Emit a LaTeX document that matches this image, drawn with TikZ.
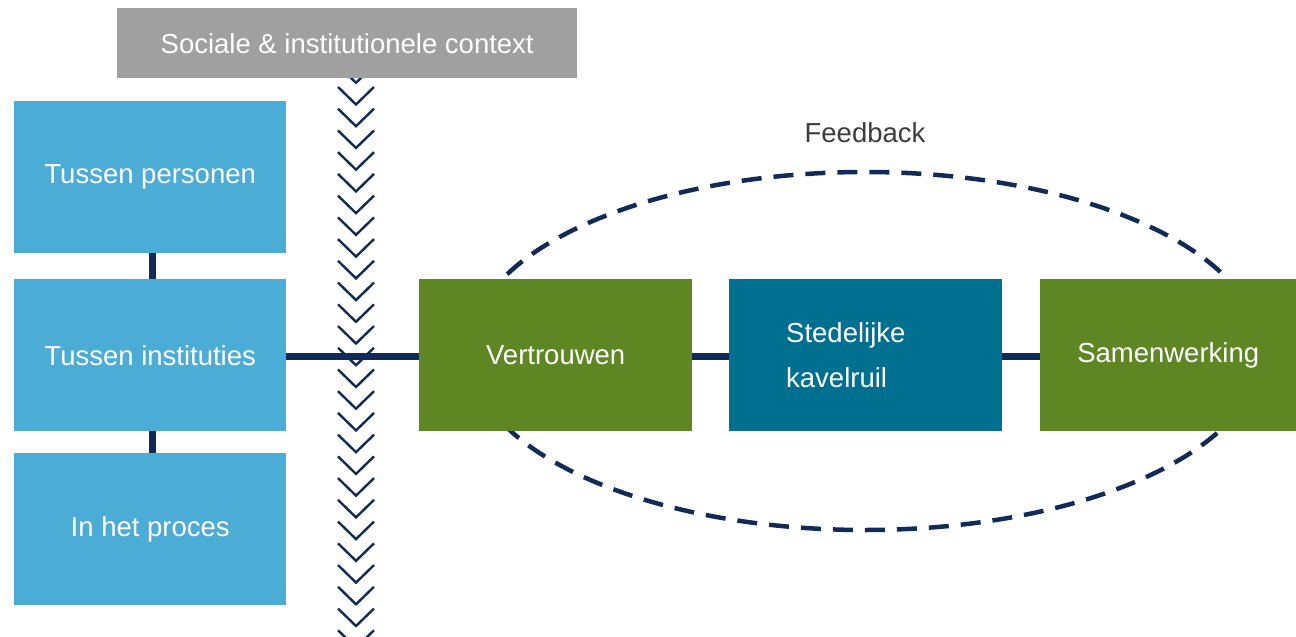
\documentclass[tikz,border=0pt]{standalone}
\usepackage{fontspec}
\setmainfont{Liberation Sans}
\definecolor{lblue}{RGB}{75,172,214}
\definecolor{dgreen}{RGB}{94,135,35}
\definecolor{teal}{RGB}{0,112,145}
\definecolor{navy}{RGB}{18,42,86}
\definecolor{cgray}{RGB}{160,160,160}
\definecolor{txtgray}{RGB}{60,60,60}
\tikzset{
  box/.style={draw=none, inner sep=0pt, minimum height=152pt, text=white, font=\fontsize{27.5}{45}\selectfont},
  conn/.style={draw=navy, line width=7pt},
  chev/.style={draw=navy, line width=2.4pt, line join=miter},
}
\begin{document}
\begin{tikzpicture}[x=1pt,y=-1pt]
\useasboundingbox (0,0) rectangle (1296,637);
% chevrons
\foreach \k in {-1,...,25}{
  \pgfmathsetmacro{\yy}{87+21.73*\k}
  \draw[chev] (338,\yy) -- (356,\yy+17.5) -- (374,\yy);
}
% gray box
\node[box, fill=cgray, minimum width=460pt, minimum height=70pt, anchor=north west] (ctx) at (117,8) {Sociale \& institutionele context};
% feedback ellipse
\draw[navy, line width=4.5pt, dash pattern=on 20pt off 12pt] (865,351) ellipse [x radius=396, y radius=179];
\node[font=\fontsize{27.5}{30}\selectfont, text=txtgray] (fb) at (865,133) {Feedback};
% left boxes
\node[box, fill=lblue, minimum width=272pt, anchor=north west] (p) at (14,101) {Tussen personen};
\node[box, fill=lblue, minimum width=272pt, anchor=north west] (i) at (14,279) {Tussen instituties};
\node[box, fill=lblue, minimum width=272pt, anchor=north west] (h) at (14,453) {In het proces};
% right boxes
\node[box, fill=dgreen, minimum width=273pt, anchor=north west] (v) at (419,279) {Vertrouwen};
\node[box, fill=teal, minimum width=273pt, anchor=north west, text width=159pt, inner xsep=57pt, align=left] (s) at (729,279) {Stedelijke\\kavelruil};
\node[box, fill=dgreen, minimum width=256pt, anchor=north west] (w) at (1040,279) {Samenwerking};
% connectors
\draw[conn] ([xshift=2pt]p.south) -- ([xshift=2pt]i.north);
\draw[conn] ([xshift=2pt]i.south) -- ([xshift=2pt]h.north);
\draw[conn] ([yshift=-1pt]i.east) -- ([yshift=-1pt]v.west);
\draw[conn] ([yshift=-1pt]v.east) -- ([yshift=-1pt]s.west);
\draw[conn] ([yshift=-1pt]s.east) -- ([yshift=-1pt]w.west);
\end{tikzpicture}
\end{document}
